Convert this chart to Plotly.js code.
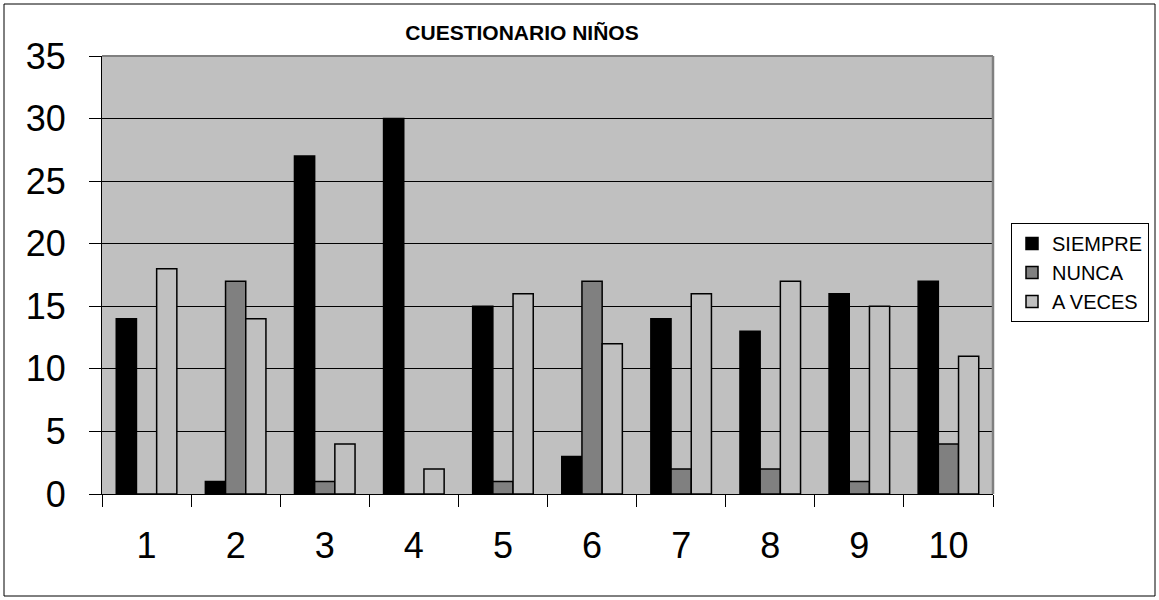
<!DOCTYPE html>
<html>
<head>
<meta charset="utf-8">
<script src="https://cdn.plot.ly/plotly-3.0.1.min.js"></script>
<style>html,body{margin:0;padding:0;background:#fff;}#chart{width:1159px;height:600px;}</style>
</head>
<body>
<div id="chart"></div>
<script>
var categories = ["1","2","3","4","5","6","7","8","9","10"];
var siempre = [14, 1, 27, 30, 15, 3, 14, 13, 16, 17];
var nunca   = [0, 17, 1, 0, 1, 17, 2, 2, 1, 4];
var aveces  = [18, 14, 4, 2, 16, 12, 16, 17, 15, 11];
var yTicks  = [0, 5, 10, 15, 20, 25, 30, 35];

var font = "Arial, 'Liberation Sans', sans-serif";
function bar(name, y, color) {
  return {type: "bar", name: name, x: categories, y: y,
    marker: {color: color, line: {color: "#000", width: 1.5}},
    hoverinfo: "x+y+name"};
}
var data = [
  bar("SIEMPRE", siempre, "#000000"),
  bar("NUNCA", nunca, "#808080"),
  bar("A VECES", aveces, "#c0c0c0")
];
var layout = {
  width: 1159, height: 600,
  margin: {l: 102, r: 166, t: 56, b: 106, autoexpand: false},
  paper_bgcolor: "#ffffff",
  plot_bgcolor: "#c0c0c0",
  barmode: "group", bargap: 0.32, bargroupgap: 0,
  font: {family: font, color: "#000"},
  title: {text: "<b>CUESTIONARIO NIÑOS</b>", font: {family: font, size: 21, color: "#000"},
    x: 522/1159, xref: "container", xanchor: "center", y: 1 - 33/600, yref: "container", yanchor: "middle"},
  xaxis: {type: "category", tickson: "boundaries", ticks: "outside", ticklen: 12, tickwidth: 1, tickcolor: "#000",
    showline: true, linecolor: "#000", linewidth: 1, showgrid: false, automargin: false,
    tickfont: {family: font, size: 36, color: "#000"}, ticklabelstandoff: 20},
  yaxis: {range: [0, 35], tickvals: yTicks, ticks: "outside", ticklen: 12, tickwidth: 1, tickcolor: "#000",
    showline: true, linecolor: "#000", linewidth: 1, showgrid: true, gridcolor: "#000", gridwidth: 1,
    zeroline: false, automargin: false, tickfont: {family: font, size: 36, color: "#000"}, ticklabelstandoff: 16},
  legend: {xref: "container", yref: "container", x: 1011/1159, xanchor: "left", y: 1 - 223/600, yanchor: "top",
    bgcolor: "#fff", bordercolor: "#000", borderwidth: 1,
    font: {family: font, size: 20, color: "#000"}, itemwidth: 30, tracegroupgap: 0},
  shapes: [
    {type: "line", xref: "paper", yref: "paper", x0: 0, x1: 1, y0: 1, y1: 1, line: {color: "#808080", width: 2}, layer: "above"},
    {type: "line", xref: "paper", yref: "paper", x0: 1, x1: 1, y0: 0, y1: 1, line: {color: "#808080", width: 2.5}, layer: "above"},
    {type: "rect", xref: "paper", yref: "paper", x0: (4-102)/891, x1: (1155-102)/891, y0: (494-596)/438, y1: (494-4)/438,
      line: {color: "#000", width: 1}, fillcolor: "rgba(0,0,0,0)", layer: "below"}
  ]
};
Plotly.newPlot("chart", data, layout, {displayModeBar: false, staticPlot: true});
</script>
</body>
</html>
